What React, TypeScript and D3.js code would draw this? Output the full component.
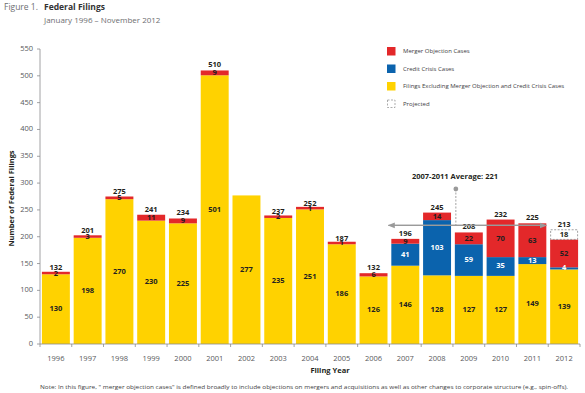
import React from "react";
import * as d3 from "d3";

const years = ["1996", "1997", "1998", "1999", "2000", "2001", "2002", "2003", "2004", "2005", "2006", "2007", "2008", "2009", "2010", "2011", "2012"];
const otherFilings = [130, 198, 270, 230, 225, 501, 277, 235, 251, 186, 126, 146, 128, 127, 127, 149, 139];
const creditCrisis = [0, 0, 0, 0, 0, 0, 0, 0, 0, 0, 0, 41, 103, 59, 35, 13, 4];
const mergerObjection = [2, 3, 5, 11, 9, 9, 0, 2, 1, 1, 6, 9, 14, 22, 70, 63, 52];
const projected = [0, 0, 0, 0, 0, 0, 0, 0, 0, 0, 0, 0, 0, 0, 0, 0, 18];
const totals = [132, 201, 275, 241, 234, 510, 277, 237, 252, 187, 132, 196, 245, 208, 232, 225, 213];
const showTotal = [true, true, true, true, true, true, false, true, true, true, true, true, true, true, true, true, true];
const yTicks = [0, 50, 100, 150, 200, 250, 300, 350, 400, 450, 500, 550];
const averageValue = 221;
const averageLabel = "2007-2011 Average: 221";
const legendItems = [
  { key: "merger", label: "Merger Objection Cases" },
  { key: "credit", label: "Credit Crisis Cases" },
  { key: "other", label: "Filings Excluding Merger Objection and Credit Crisis Cases" },
  { key: "projected", label: "Projected" },
];

const W = 585;
const H = 393;
const FONT = "'Open Sans', 'Noto Sans', sans-serif";
const YELLOW = "#FFD200";
const RED = "#E3282A";
const BLUE = "#0B63AD";
const DARK = "#231F20";
const GRAY = "#58595B";

export default function App() {
  const left = 40, right = 580, top = 49, bottom = 344;

  const x = d3.scaleBand().domain(years).range([left, right]).paddingInner(0.12).paddingOuter(0.06);
  const y = d3.scaleLinear().domain([0, 550]).range([bottom, top]);
  const step = x.step();
  const bw = x.bandwidth();
  const colorOf: Record<string, string> = { merger: RED, credit: BLUE, other: YELLOW };

  const bars = years.map((yr, i) => {
    const x0 = x(yr) as number;
    const y0 = y(0);
    const yOther = y(otherFilings[i]);
    const yCredit = y(otherFilings[i] + creditCrisis[i]);
    const cumMerger = otherFilings[i] + creditCrisis[i] + mergerObjection[i];
    let yMerger = y(cumMerger);
    if (mergerObjection[i] > 0 && yCredit - yMerger < 2.5) yMerger = yCredit - 2.5;
    const yProj = y(cumMerger + projected[i]);
    return { yr, i, x0, y0, yOther, yCredit, yMerger, yProj };
  });

  const boundaries = years.map((yr) => (x(yr) as number) - (step * 0.12) / 2).concat([right]);

  const avgY = y(averageValue);
  const avgX1 = (x("2007") as number) - 3;
  const avgX2 = (x("2011") as number) + bw;
  const avgVX = (x("2009") as number) + 1;

  return (
    <svg width={W} height={H} style={{ position: "absolute", left: 0, top: 0, background: "#fff" }} fontFamily={FONT}>
      <defs>
        <marker id="arr" viewBox="0 0 10 10" refX="9" refY="5" markerWidth="6" markerHeight="6" orient="auto-start-reverse">
          <path d="M0,1 L10,5 L0,9 Z" fill="#9a9a9a" />
        </marker>
      </defs>

      {/* title */}
      <text x={4} y={10} fontSize={8.5} fill="#6d6e71">Figure 1.</text>
      <text x={44} y={10} fontSize={8.5} fontWeight="bold" fill="#333">Federal Filings</text>
      <text x={44} y={23} fontSize={8} fill="#6d6e71">January 1996 – November 2012</text>

      {/* legend */}
      {legendItems.map((d, k) => {
        const ly = 47 + k * 17.5;
        return (
          <g key={d.key}>
            {d.key === "projected" ? (
              <rect x={387.5} y={ly + 0.5} width={7.5} height={7.5} fill="#fff" stroke="#8a8a8a" strokeWidth={0.7} strokeDasharray="2,1.5" />
            ) : (
              <rect x={387} y={ly} width={8.5} height={8.5} fill={colorOf[d.key]} />
            )}
            <text x={403} y={ly + 4.5} dominantBaseline="middle" fontSize={6} fill="#414042">{d.label}</text>
          </g>
        );
      })}

      {/* y axis */}
      <line x1={left} x2={left} y1={y(0)} y2={y(550)} stroke="#8a8c8e" strokeWidth={0.8} />
      {yTicks.map((t) => (
        <g key={t}>
          <line x1={left - 3} x2={left} y1={y(t)} y2={y(t)} stroke="#8a8c8e" strokeWidth={0.8} />
          <text x={33} y={y(t)} dominantBaseline="middle" textAnchor="end" fontSize={7.5} fill={GRAY}>{t}</text>
        </g>
      ))}
      <text transform={`translate(12,${(top + bottom) / 2 + 2}) rotate(-90)`} textAnchor="middle" dominantBaseline="middle" fontSize={7.5} fontWeight="bold" fill={DARK}>Number of Federal Filings</text>

      {/* bars */}
      {bars.map((b) => (
        <g key={b.yr}>
          <rect x={b.x0} y={b.yOther} width={bw} height={b.y0 - b.yOther} fill={YELLOW} />
          {creditCrisis[b.i] > 0 && <rect x={b.x0} y={b.yCredit} width={bw} height={b.yOther - b.yCredit} fill={BLUE} />}
          {mergerObjection[b.i] > 0 && <rect x={b.x0} y={b.yMerger} width={bw} height={b.yCredit - b.yMerger} fill={RED} />}
          {projected[b.i] > 0 && (
            <rect x={b.x0 + 0.5} y={b.yProj} width={bw - 1} height={b.yMerger - b.yProj} fill="#fff" stroke="#8a8a8a" strokeWidth={0.8} strokeDasharray="2,1.5" />
          )}
        </g>
      ))}

      {/* x axis */}
      <line x1={left} x2={right} y1={bottom} y2={bottom} stroke="#8a8c8e" strokeWidth={0.8} />
      {boundaries.map((bx, k) => (
        <line key={k} x1={bx} x2={bx} y1={bottom} y2={bottom + 3} stroke="#8a8c8e" strokeWidth={0.8} />
      ))}
      {years.map((yr) => (
        <text key={yr} x={(x(yr) as number) + bw / 2} y={359} dominantBaseline="middle" textAnchor="middle" fontSize={7.5} fill={GRAY}>{yr}</text>
      ))}
      <text x={330} y={371} dominantBaseline="middle" textAnchor="middle" fontSize={7.5} fontWeight="bold" fill={DARK}>Filing Year</text>

      {/* bar labels */}
      {bars.map((b) => {
        const cx = b.x0 + bw / 2;
        return (
          <g key={"l" + b.yr} fontSize={7.5} fontWeight="bold" textAnchor="middle">
            <text x={cx} y={(b.y0 + b.yOther) / 2} dominantBaseline="middle" fill={DARK}>{otherFilings[b.i]}</text>
            {creditCrisis[b.i] > 0 && (
              <text x={cx} y={(b.yOther + b.yCredit) / 2} dominantBaseline="middle" fill="#fff">{creditCrisis[b.i]}</text>
            )}
            {mergerObjection[b.i] > 0 && (
              <text x={cx} y={(b.yCredit + b.yMerger) / 2 + 0.5} dominantBaseline="middle" fill={DARK}>{mergerObjection[b.i]}</text>
            )}
            {projected[b.i] > 0 && (
              <text x={cx} y={(b.yMerger + b.yProj) / 2 + 0.5} dominantBaseline="middle" fill={DARK}>{projected[b.i]}</text>
            )}
            {showTotal[b.i] && (
              <text x={cx} y={b.yProj - 3} fill={DARK}>{totals[b.i]}</text>
            )}
          </g>
        );
      })}

      {/* average annotation */}
      <line x1={avgX1 + 5} x2={avgX2} y1={avgY} y2={avgY} stroke="#9a9a9a" strokeWidth={1.2} markerEnd="url(#arr)" />
      <line x1={avgX2 - 5} x2={avgX1} y1={avgY} y2={avgY} stroke="#9a9a9a" strokeWidth={1.2} markerEnd="url(#arr)" />
      <line x1={avgVX} x2={avgVX} y1={189} y2={avgY} stroke="#9a9a9a" strokeWidth={0.9} strokeDasharray="2,1.5" />
      <circle cx={avgVX} cy={189} r={2.4} fill="#9a9a9a" />
      <text x={455} y={177} dominantBaseline="middle" textAnchor="middle" fontSize={7.5} fontWeight="bold" fill={DARK}>{averageLabel}</text>

      {/* note */}
      <text x={40} y={387} dominantBaseline="middle" fontSize={5.6} fill="#414042" textLength={528} lengthAdjust="spacingAndGlyphs">
        Note:  In this figure, " merger objection cases" is defined broadly to include objections on mergers and acquisitions as well as other changes to corporate structure (e.g., spin-offs).
      </text>
    </svg>
  );
}
